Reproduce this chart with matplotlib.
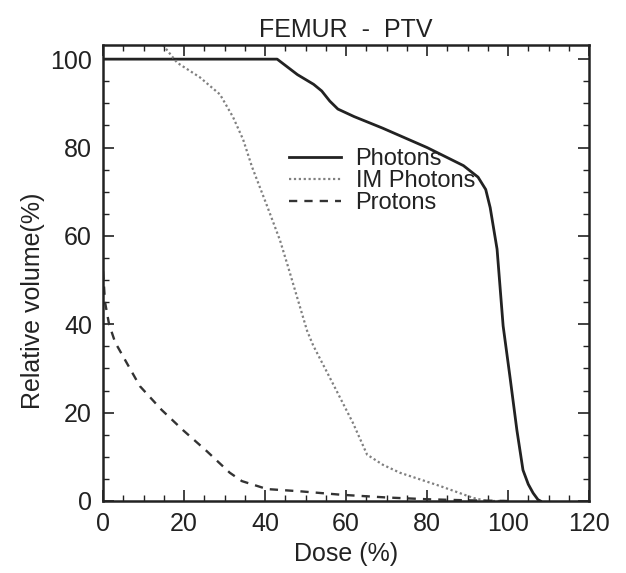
import numpy as np
import matplotlib
matplotlib.use("Agg")
import matplotlib.pyplot as plt
from matplotlib.ticker import MultipleLocator

# Dose-volume histogram values (dose %, volume %)
photons_dose = [0, 43, 45, 48, 52, 54, 56, 58, 62, 69, 80, 89, 92.6, 94.5,
                95.6, 97.3, 98.8, 100.5, 102.2, 103.7, 105, 106.2, 107.4, 108]
photons_vol = [100, 100, 98.6, 96.5, 94.3, 92.8, 90.5, 88.7, 87, 84.4, 80,
               75.9, 73.3, 70.5, 66.4, 57, 39.6, 28, 16, 7, 3.8, 1.8, 0.3, 0]

im_dose = [14.8, 18.3, 23.9, 28.9, 32.1, 34.6, 36.8, 40.5, 43.7, 45.7, 47.9,
           50.4, 51.9, 56.8, 61.7, 65.2, 69.1, 73.3, 83.2, 91.4, 94.8, 100]
im_vol = [103.2, 99.2, 95.9, 92, 86.9, 81.8, 75.6, 66.8, 59, 53, 46.2,
          38.5, 35.2, 26.5, 17.7, 10.5, 8.2, 6.4, 3.4, 0.7, 0, 0]

protons_dose = [0, 0.5, 1.5, 3, 9.1, 14.5, 19.8, 25.6, 31.3, 34.3, 40.5, 48.6,
                59, 70, 80, 90, 100]
protons_vol = [52, 45, 40, 35.9, 26, 20.6, 16, 11.3, 6.4, 4.5, 2.7, 2.2,
               1.4, 0.8, 0.4, 0.15, 0]

plt.rcParams["font.family"] = ["Liberation Sans", "DejaVu Sans"]

fig = plt.figure(figsize=(6.26, 5.73), dpi=100)
ax = fig.add_axes([103 / 626, 1 - 501 / 573, 486 / 626, 456 / 573])

ax.plot(photons_dose, photons_vol, color="#222222", linewidth=2.0,
        label="Photons")
ax.plot(im_dose, im_vol, color="#808080", linewidth=1.6, linestyle=(0, (1, 1.2)),
        label="IM Photons")
ax.plot(protons_dose, protons_vol, color="#333333", linewidth=1.7,
        linestyle=(0, (3.5, 3)), label="Protons")

ax.set_xlim(0, 120)
ax.set_ylim(0, 103.2)
ax.xaxis.set_major_locator(MultipleLocator(20))
ax.xaxis.set_minor_locator(MultipleLocator(5))
ax.yaxis.set_major_locator(MultipleLocator(20))
ax.yaxis.set_minor_locator(MultipleLocator(5))
ax.tick_params(which="both", direction="in", top=True, right=True,
               color="#222222", labelsize=18, labelcolor="#222222")
ax.tick_params(which="major", length=8, width=1.2, pad=8)
ax.tick_params(which="minor", length=4, width=1.0)
for spine in ax.spines.values():
    spine.set_linewidth(1.8)
    spine.set_color("#222222")

ax.set_title("FEMUR  -  PTV", fontsize=18, color="#222222", pad=6)
ax.set_xlabel("Dose (%)", fontsize=18, color="#222222", labelpad=4)
ax.set_ylabel("Relative volume(%)", fontsize=18, color="#222222")
ax.yaxis.set_label_coords(-0.12, 0.44)

ax.legend(loc="upper left", bbox_to_anchor=(0.34, 0.82), frameon=False,
          fontsize=17, handlelength=2.2, handletextpad=0.6, labelspacing=0.0,
          labelcolor="#222222")

fig.savefig("out.png", dpi=100)
